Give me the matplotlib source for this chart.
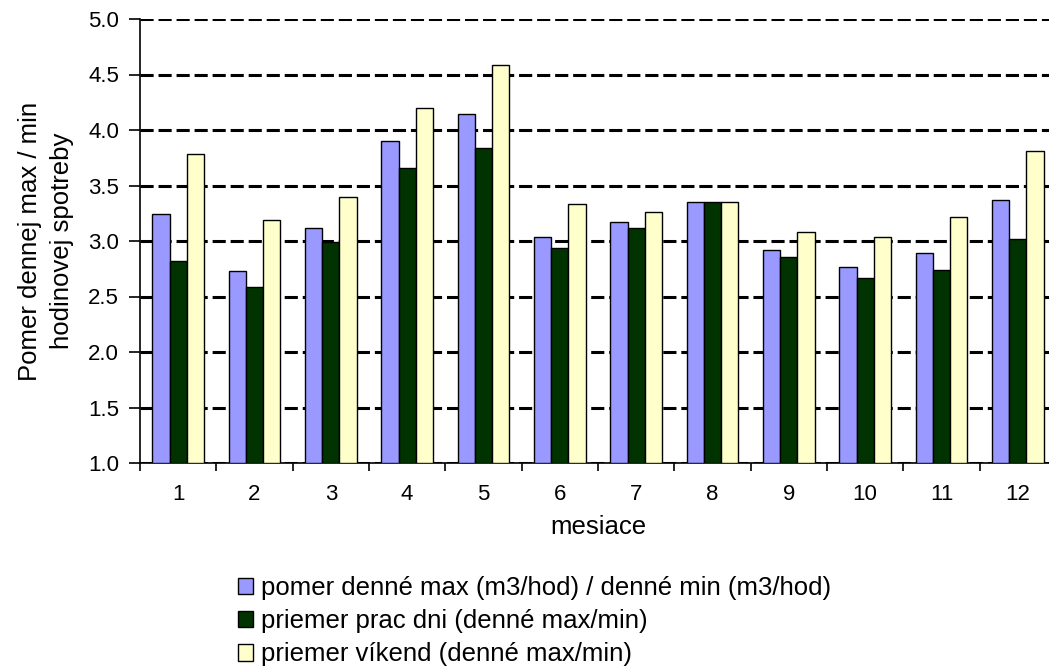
import matplotlib.pyplot as plt
import numpy as np

plt.rcParams['font.family'] = ['Liberation Sans', 'DejaVu Sans']

# monthly ratios of daily max / min hourly consumption
months = ['1', '2', '3', '4', '5', '6', '7', '8', '9', '10', '11', '12']
pomer = [3.24, 2.73, 3.12, 3.90, 4.14, 3.04, 3.17, 3.35, 2.92, 2.77, 2.89, 3.37]
prac_dni = [2.82, 2.59, 2.99, 3.66, 3.84, 2.94, 3.12, 3.35, 2.86, 2.67, 2.74, 3.02]
vikend = [3.78, 3.19, 3.40, 4.20, 4.59, 3.33, 3.26, 3.35, 3.08, 3.04, 3.22, 3.81]

labels = ['pomer denné max (m3/hod) / denné min (m3/hod)',
          'priemer prac dni (denné max/min)',
          'priemer víkend (denné max/min)']
colors = ['#9999FF', '#003300', '#FFFFCC']

fig = plt.figure(figsize=(10.49, 6.68), dpi=100)
ax = fig.add_axes([140 / 1049, 1 - 463 / 668, (1056 - 140) / 1049, (463 - 19) / 668])

x = np.arange(1, len(months) + 1)
w = 0.225
for i, (vals, c, lab) in enumerate(zip([pomer, prac_dni, vikend], colors, labels)):
    ax.bar(x + (i - 1) * w, np.array(vals) - 1.0, w, bottom=1.0, color=c,
           edgecolor='black', linewidth=1.0, label=lab, zorder=3)

ax.set_xlim(0.5, 12.5)
ax.set_ylim(1.0, 5.0)
ax.set_yticks(np.arange(1.0, 5.01, 0.5))
ax.set_yticklabels([f'{v:.1f}' for v in np.arange(1.0, 5.01, 0.5)], fontsize=16)
ax.set_xticks(x)
ax.set_xticklabels(months, fontsize=16)
ax.set_xticks(np.arange(0.5, 12.6, 1), minor=True)
ax.tick_params(axis='x', which='major', length=0, pad=15)
ax.tick_params(axis='x', which='minor', length=6, width=1.2, direction='out')
ax.tick_params(axis='y', length=8, width=1.2, direction='out', pad=7)

ax.yaxis.grid(True, color='black', linewidth=2.2, linestyle=(0, (4.3, 1.6)), zorder=0)
ax.set_axisbelow(True)
for s in ['top', 'right']:
    ax.spines[s].set_visible(False)
ax.spines['left'].set_linewidth(1.2)
ax.spines['bottom'].set_linewidth(1.2)

ax.set_ylabel('Pomer dennej max / min\nhodinovej spotreby', fontsize=18.5,
              labelpad=10, linespacing=1.45)
ax.set_xlabel('mesiace', fontsize=18.5, labelpad=7)

fig.legend(loc='upper left', bbox_to_anchor=(238 / 1049, 1 - 576 / 668), frameon=False,
           fontsize=18.5, handlelength=0.6, handleheight=0.6, handletextpad=0.3,
           labelspacing=0.36, borderaxespad=0, borderpad=0)

fig.savefig('out.png', dpi=100)
